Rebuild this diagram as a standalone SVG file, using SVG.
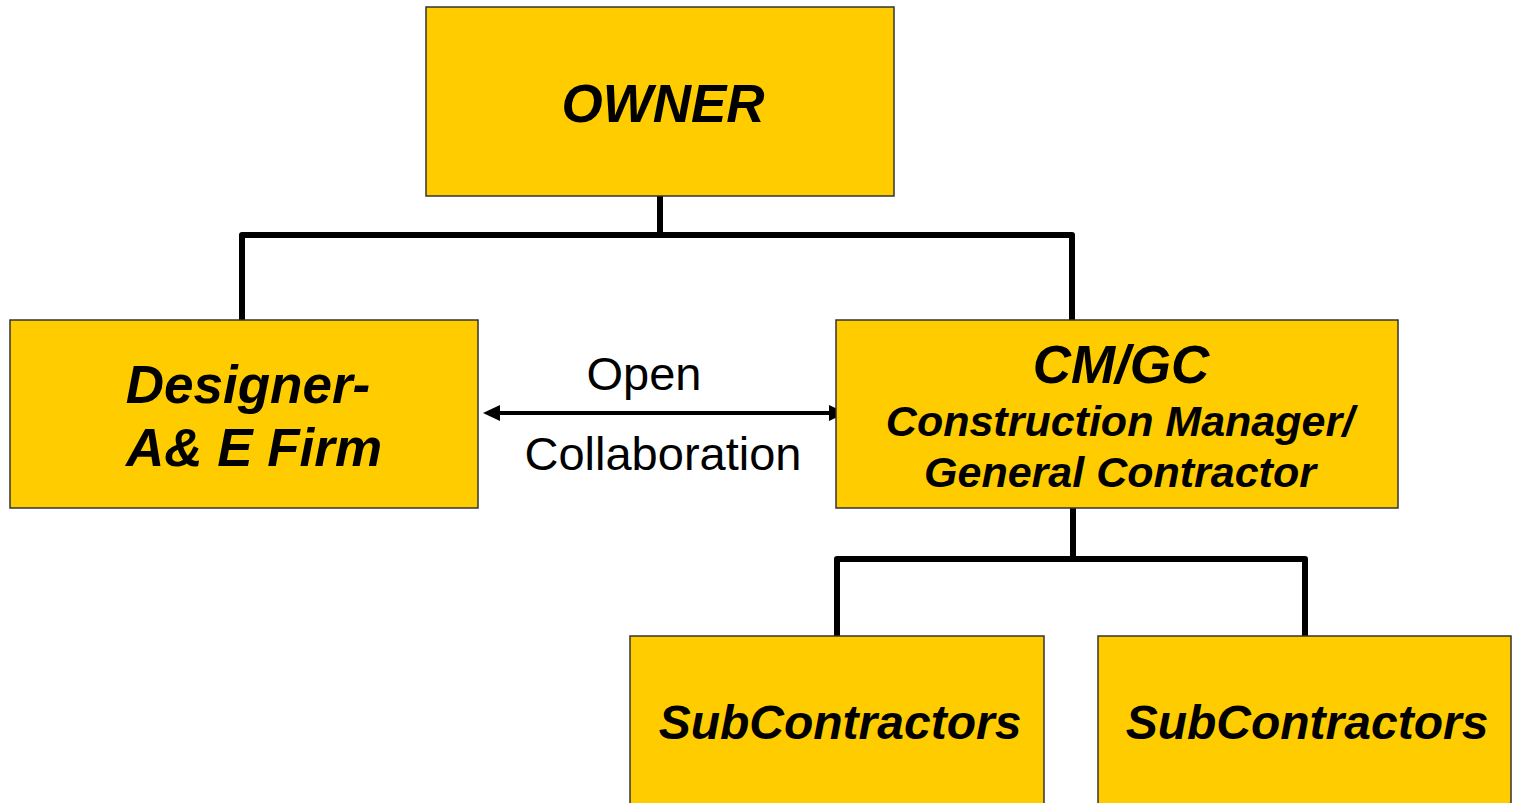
<svg xmlns="http://www.w3.org/2000/svg" width="1513" height="803" viewBox="0 0 1513 803">
<style>
.box{fill:#FFCC00;stroke:#333;stroke-width:1.5}
.t{font-family:"Liberation Sans",Arial,sans-serif;font-weight:bold;font-style:italic;fill:#000;text-anchor:middle}
.r{font-family:"Liberation Sans",Arial,sans-serif;fill:#000;text-anchor:middle}
.c{fill:none;stroke:#000;stroke-width:6;stroke-linejoin:round}
.ah{fill:#000}
</style>
<rect width="1513" height="803" fill="#fff"/>
<g id="connectors">
<path class="c" d="M660,196 V235 M242,320 V235 H1072 V320"/>
<path class="c" d="M1073,508 V559 M837,636 V559 H1305 V636"/>
<line x1="495" y1="413" x2="834" y2="413" stroke="#000" stroke-width="4"/>
<path class="ah" d="M483,413 L500,405 L500,421 Z"/>
<path class="ah" d="M846,413 L829,405 L829,421 Z"/>
</g>
<g id="owner">
<rect class="box" x="426" y="7" width="468" height="189"/>
<text class="t" x="663" y="122" font-size="53">OWNER</text>
</g>
<g id="designer">
<rect class="box" x="10" y="320" width="468" height="188"/>
<text class="t" x="248" y="403" font-size="53">Designer-</text>
<text class="t" x="254" y="466" font-size="53">A&amp; E Firm</text>
</g>
<g id="cmgc">
<rect class="box" x="836" y="320" width="562" height="188"/>
<text class="t" x="1121" y="383" font-size="53">CM/GC</text>
<text class="t" x="1120" y="436" font-size="43">Construction Manager/</text>
<text class="t" x="1120" y="487" font-size="43">General Contractor</text>
</g>
<g id="collab-label">
<text class="r" x="644" y="390" font-size="47">Open</text>
<text class="r" x="663" y="470" font-size="47">Collaboration</text>
</g>
<g id="sub1">
<rect class="box" x="630" y="636" width="414" height="180"/>
<text class="t" x="840" y="739" font-size="48">SubContractors</text>
</g>
<g id="sub2">
<rect class="box" x="1098" y="636" width="413" height="180"/>
<text class="t" x="1307" y="739" font-size="48">SubContractors</text>
</g>
</svg>
